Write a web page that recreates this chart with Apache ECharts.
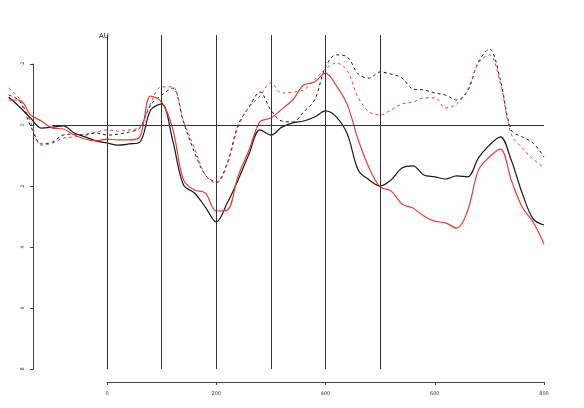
<!DOCTYPE html>
<html>
<head>
<meta charset="utf-8">
<script src="https://cdn.jsdelivr.net/npm/echarts@6/dist/echarts.min.js"></script>
<style>
  html, body { margin: 0; padding: 0; background: #fff; }
  #main { width: 584px; height: 408px; }
</style>
</head>
<body>
<div id="main"></div>
<script>
var myChart = echarts.init(document.getElementById('main'));

// time in ms, one sample every 20 ms
var times = [-180, -160, -140, -120, -100, -80, -60, -40, -20, 0,
    20, 40, 60, 80, 100, 120, 140, 160, 180, 200,
    220, 240, 260, 280, 300, 320, 340, 360, 380, 400,
    420, 440, 460, 480, 500, 520, 540, 560, 580, 600,
    620, 640, 660, 680, 700, 720, 740, 760, 780, 800];

// black solid
var blackSolid = [-0.92, -0.59, -0.23, 0.10, 0.07, 0.03, 0.26, 0.39, 0.52, 0.59,
    0.66, 0.62, 0.56, -0.49, -0.69, 0.49, 1.97, 2.23, 2.69, 3.18,
    2.56, 1.80, 0.95, 0.16, 0.33, 0.07, -0.07, -0.13, -0.26, -0.46,
    -0.26, 0.30, 1.48, 1.80, 2.00, 1.80, 1.41, 1.34, 1.64, 1.70,
    1.77, 1.67, 1.70, 1.08, 0.66, 0.39, 1.15, 2.23, 3.08, 3.28];

// red solid
var redSolid = [-0.82, -0.82, -0.33, -0.13, 0.10, 0.13, 0.33, 0.46, 0.52, 0.46,
    0.49, 0.49, 0.39, -0.95, -0.75, 0.10, 1.80, 2.13, 2.23, 2.82,
    2.79, 1.67, 0.82, -0.10, -0.23, -0.52, -0.82, -1.31, -1.41, -1.70,
    -1.28, -0.66, 0.49, 1.41, 2.03, 2.16, 2.59, 2.72, 2.98, 3.15,
    3.21, 3.38, 2.82, 1.48, 1.05, 0.79, 1.80, 2.69, 3.18, 3.90];

// black dashed
var blackDashed = [-0.98, -0.79, 0.03, 0.62, 0.56, 0.33, 0.30, 0.33, 0.26, 0.33,
    0.30, 0.23, 0.10, -0.66, -0.98, -1.21, -0.10, 0.89, 1.64, 1.87,
    1.25, 0.00, -0.59, -1.08, -0.49, -0.13, -0.10, -0.43, -0.82, -1.90,
    -2.30, -2.23, -1.67, -1.54, -1.74, -1.67, -1.54, -1.18, -1.15, -1.05,
    -0.98, -0.82, -1.11, -2.07, -2.49, -1.48, 0.16, 0.39, 0.59, 1.05];

// red dashed
var redDashed = [-1.21, -0.85, -0.10, 0.66, 0.59, 0.43, 0.39, 0.30, 0.23, 0.16,
    0.20, 0.16, 0.07, -0.72, -1.25, -1.25, -0.13, 0.75, 1.64, 1.90,
    1.31, 0.07, -0.59, -0.95, -1.38, -1.05, -1.08, -1.15, -1.48, -1.84,
    -2.03, -1.77, -0.89, -0.43, -0.33, -0.49, -0.69, -0.75, -0.89, -0.89,
    -0.56, -0.69, -1.15, -2.03, -2.30, -1.38, 0.30, 0.75, 1.11, 1.41];

var xTicks = [0, 200, 400, 600, 800];
var yTicks = [-2, 0, 2, 4, 6, 8];
var markers = [0, 100, 200, 300, 400, 500];

var black = '#1a1a1a';
var red = '#e63c3c';

function pairs(vals) {
    var res = [];
    for (var i = 0; i < times.length; i++) {
        res.push([times[i], vals[i]]);
    }
    return res;
}

var refLines = [];
for (var i = 0; i < markers.length; i++) {
    refLines.push([{coord: [markers[i], -2.95]}, {coord: [markers[i], 8]}]);
}
refLines.push([{coord: [-100, 0]}, {coord: [800, 0]}]);

function lineSeries(name, vals, color, dashed) {
    return {
        name: name,
        type: 'line',
        xAxisIndex: 0,
        yAxisIndex: 0,
        data: pairs(vals),
        smooth: 0.35,
        showSymbol: false,
        clip: false,
        lineStyle: {
            color: color,
            width: dashed ? 1 : 1.2,
            type: dashed ? [3, 3] : 'solid'
        },
        z: 3
    };
}

var series = [
    lineSeries('blackDashed', blackDashed, black, true),
    lineSeries('redDashed', redDashed, red, true),
    lineSeries('blackSolid', blackSolid, black, false),
    lineSeries('redSolid', redSolid, red, false)
];
series[0].markLine = {
    silent: true,
    symbol: 'none',
    animation: false,
    label: {show: false},
    lineStyle: {color: '#333', width: 1, type: 'solid'},
    data: refLines
};

option = {
    backgroundColor: '#fff',
    animation: false,
    title: {
        text: 'AU',
        left: 99,
        top: 33,
        padding: 0,
        textStyle: {fontSize: 7, fontWeight: 'normal', color: '#222', fontFamily: 'DejaVu Sans'}
    },
    grid: [
        // data area, -180..800 ms by -3..8
        {left: 8.7, right: 40, top: 33.5, bottom: 39},
        // y axis, -2..8
        {left: 33, width: 1, top: 64, bottom: 39},
        // x axis, 0..800
        {left: 107, right: 40, top: 370, bottom: 26}
    ],
    xAxis: [
        {gridIndex: 0, type: 'value', min: -180, max: 800, show: false},
        {gridIndex: 1, type: 'value', min: 0, max: 1, show: false},
        {
            gridIndex: 2, type: 'value', min: 0, max: 800, interval: 200,
            position: 'bottom',
            axisLine: {show: true, lineStyle: {color: '#444', width: 1}},
            axisTick: {show: true, length: 3, lineStyle: {color: '#444'}},
            axisLabel: {fontSize: 5, color: '#333', margin: 9, fontFamily: 'DejaVu Sans'},
            splitLine: {show: false}
        }
    ],
    yAxis: [
        {gridIndex: 0, type: 'value', min: -3, max: 8, inverse: true, show: false},
        {
            gridIndex: 1, type: 'value', min: -2, max: 8, interval: 2, inverse: true,
            position: 'left',
            axisLine: {show: true, lineStyle: {color: '#444', width: 1}},
            axisTick: {show: true, length: 3, lineStyle: {color: '#444'}},
            axisLabel: {fontSize: 5, color: '#333', margin: 8, rotate: 90, fontFamily: 'DejaVu Sans'},
            splitLine: {show: false}
        },
        {gridIndex: 2, type: 'value', min: 0, max: 1, show: false}
    ],
    series: series
};

myChart.setOption(option);
</script>
</body>
</html>
